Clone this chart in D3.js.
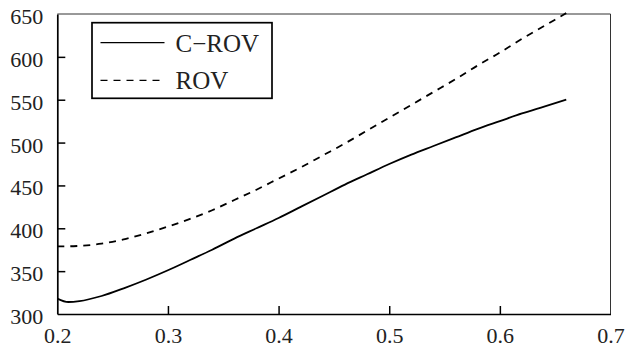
<!DOCTYPE html>
<html>
<head>
<meta charset="utf-8">
<script src="https://cdn.jsdelivr.net/npm/d3@7"></script>
<style>
  html, body { margin: 0; padding: 0; background: #fff; }
  svg { display: block; }
  svg text { font-family: "Liberation Serif", "Times New Roman", serif; }
</style>
</head>
<body>
<svg id="chart" width="627" height="347" font-family="Liberation Serif"></svg>
<script>
// values
var xValues = [0.20, 0.21, 0.22, 0.24, 0.26, 0.28, 0.30, 0.32, 0.34, 0.36, 0.38, 0.40, 0.42,
               0.44, 0.46, 0.48, 0.50, 0.52, 0.54, 0.56, 0.58, 0.60, 0.62, 0.64, 0.66];
var crov = [318, 314, 315, 321, 330, 340, 351, 363, 375, 388, 400, 412, 425,
            438, 451, 463, 475, 486, 496, 506, 516, 525, 534, 542, 550];
var rov = [379, 379, 379.5, 382, 387, 394, 402, 411, 421, 433, 445, 458, 471,
           485, 499, 514, 529, 544, 559, 574, 590, 605, 621, 636, 651];
var xTicks = [0.2, 0.3, 0.4, 0.5, 0.6, 0.7];
var yTicks = [300, 350, 400, 450, 500, 550, 600, 650];
var seriesNames = ["C\u2212ROV", "ROV"];

var margin = { left: 57.3, right: 16.5, top: 14, bottom: 33 },
    width = 627, height = 347;

var svg = d3.select("#chart");

var x = d3.scaleLinear().domain([0.2, 0.7]).range([margin.left, width - margin.right]);
var y = d3.scaleLinear().domain([300, 650]).range([height - margin.bottom, margin.top]);

// thin frame on top and right
svg.append("path")
    .attr("d", "M" + x(0.2) + "," + y(650) + "H" + x(0.7) + "V" + y(300))
    .attr("fill", "none")
    .attr("stroke", "#333")
    .attr("stroke-width", 1);

var xAxis = svg.append("g")
    .attr("transform", "translate(0," + y(300) + ")")
    .call(d3.axisBottom(x).tickValues(xTicks).tickFormat(d3.format(".1f")).tickSize(-8).tickSizeOuter(0));

var yAxis = svg.append("g")
    .attr("transform", "translate(" + x(0.2) + ",0)")
    .call(d3.axisLeft(y).tickValues(yTicks).tickFormat(d3.format("d")).tickSize(-8).tickSizeOuter(0).tickPadding(14));

[xAxis, yAxis].forEach(function (g) {
    g.attr("font-family", "Liberation Serif").attr("font-size", 22);
    g.select(".domain").attr("stroke", "#000").attr("stroke-width", 1.7);
    g.selectAll(".tick line").attr("stroke", "#000").attr("stroke-width", 1.5);
    g.selectAll(".tick text")
        .attr("fill", "#222")
        .attr("font-family", "Liberation Serif");
});
xAxis.selectAll(".tick text").attr("y", 29).attr("dy", null);
yAxis.selectAll(".tick text").attr("dy", "9.5");
// the end ticks sit on the frame
xAxis.selectAll(".tick").filter(function (d) { return d === 0.2 || d === 0.7; }).select("line").remove();
yAxis.selectAll(".tick").filter(function (d) { return d === 300 || d === 650; }).select("line").remove();

var line = d3.line()
    .x(function (d) { return x(d[0]); })
    .y(function (d) { return y(d[1]); })
    .curve(d3.curveMonotoneX);

svg.append("path")
    .datum(d3.zip(xValues, crov))
    .attr("d", line)
    .attr("fill", "none")
    .attr("stroke", "#000")
    .attr("stroke-width", 1.8);

svg.append("path")
    .datum(d3.zip(xValues, rov))
    .attr("d", line)
    .attr("fill", "none")
    .attr("stroke", "#000")
    .attr("stroke-width", 1.8)
    .attr("stroke-dasharray", "7,6");

// legend
var legend = svg.append("g");
legend.append("rect")
    .attr("x", 92).attr("y", 22.7)
    .attr("width", 180).attr("height", 75.6)
    .attr("fill", "#fff")
    .attr("stroke", "#000")
    .attr("stroke-width", 1.7);

var items = legend.selectAll("g.item")
    .data(seriesNames)
    .enter().append("g")
    .attr("class", "item")
    .attr("transform", function (d, i) { return "translate(0," + (i * 37.6) + ")"; });

items.append("line")
    .attr("x1", 100.5).attr("x2", 164.5)
    .attr("y1", 42.7).attr("y2", 42.7)
    .attr("stroke", "#000")
    .attr("stroke-width", 1.3)
    .attr("stroke-dasharray", function (d, i) { return i ? "7,6" : null; });

items.append("text")
    .attr("x", 175.5).attr("y", 51.5)
    .attr("fill", "#222")
    .attr("font-family", "Liberation Serif")
    .attr("font-size", 25)
    .text(function (d) { return d; });
</script>
</body>
</html>
